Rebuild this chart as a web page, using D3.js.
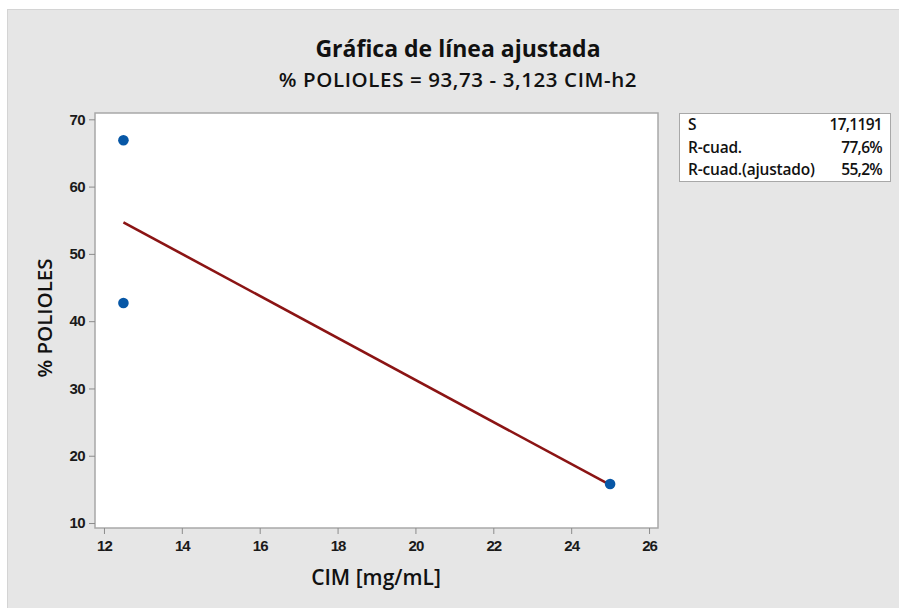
<!DOCTYPE html>
<html>
<head>
<meta charset="utf-8">
<script src="https://cdn.jsdelivr.net/npm/d3@7"></script>
<style>
  body { margin: 0; background: #ffffff; }
  svg { display: block; font-family: "Open Sans", "Noto Sans", sans-serif; }
</style>
</head>
<body>
<svg id="chart" width="899" height="608"></svg>
<script>
// ---- data ----
const cim = [12.5, 12.5, 25];
const polioles = [66.9, 42.7, 15.8];
const fitIntercept = 93.73;
const fitSlope = -3.123;
const xTicks = [12, 14, 16, 18, 20, 22, 24, 26];
const yTicks = [10, 20, 30, 40, 50, 60, 70];
const statLabels = ["S", "R-cuad.", "R-cuad.(ajustado)"];
const statValues = ["17,1191", "77,6%", "55,2%"];
const title = "Gráfica de línea ajustada";
const subtitle = "% POLIOLES = 93,73 - 3,123 CIM-h2";
const xLabel = "CIM [mg/mL]";
const yLabel = "% POLIOLES";

const svg = d3.select("#chart");
const W = 899, H = 608;

// background panel
svg.append("rect").attr("x", 0).attr("y", 0).attr("width", W).attr("height", H).attr("fill", "#ffffff");
svg.append("rect").attr("x", 7.5).attr("y", 9.5).attr("width", W).attr("height", H)
  .attr("fill", "#e6e6e6").attr("stroke", "#d4d4d4");

const plot = { left: 95, top: 113, right: 658, bottom: 528 };

const x = d3.scaleLinear().domain([11.77, 26.23]).range([plot.left, plot.right]);
const y = d3.scaleLinear().domain([9.26, 70.94]).range([plot.bottom, plot.top]);

svg.append("rect").attr("x", plot.left).attr("y", plot.top)
  .attr("width", plot.right - plot.left).attr("height", plot.bottom - plot.top)
  .attr("fill", "#ffffff").attr("stroke", "#a8a8a8").attr("stroke-width", 1.5);

// axes
const xAxis = d3.axisBottom(x).tickValues(xTicks).tickSize(6).tickFormat(d3.format("d"));
const gx = svg.append("g").attr("transform", `translate(0,${plot.bottom})`).call(xAxis);
gx.select(".domain").remove();
gx.selectAll(".tick line").attr("stroke", "#8c8c8c");
gx.selectAll(".tick text").attr("fill", "#1a1a1a").attr("font-size", 15).attr("font-weight", 600)
  .attr("dy", "0.9em").attr("letter-spacing", "-1px");

const yAxis = d3.axisLeft(y).tickValues(yTicks).tickSize(6).tickFormat(d3.format("d"));
const gy = svg.append("g").attr("transform", `translate(${plot.left},0)`).call(yAxis);
gy.select(".domain").remove();
gy.selectAll(".tick line").attr("stroke", "#8c8c8c");
gy.selectAll(".tick text").attr("fill", "#1a1a1a").attr("font-size", 15).attr("font-weight", 600)
  .attr("dx", "-1px").attr("letter-spacing", "-0.6px");

// fitted line
const xMin = d3.min(cim), xMax = d3.max(cim);
const fitPts = [xMin, xMax].map(v => [v, fitIntercept + fitSlope * v]);
svg.append("path").datum(fitPts)
  .attr("d", d3.line().x(d => x(d[0])).y(d => y(d[1])))
  .attr("fill", "none").attr("stroke", "#8b1414").attr("stroke-width", 2.6);

// points
svg.selectAll("circle.pt").data(cim.map((c, i) => [c, polioles[i]])).enter()
  .append("circle").attr("class", "pt")
  .attr("cx", d => x(d[0])).attr("cy", d => y(d[1])).attr("r", 5.3)
  .attr("fill", "#0757a6");

// titles
svg.append("text").attr("x", 458).attr("y", 57).attr("text-anchor", "middle")
  .attr("font-size", 23).attr("font-weight", 700).attr("fill", "#111").text(title);
svg.append("text").attr("x", 458).attr("y", 87).attr("text-anchor", "middle")
  .attr("font-size", 20.5).attr("font-weight", 600).attr("fill", "#111")
  .attr("letter-spacing", "0.6px").text(subtitle);

// axis labels
svg.append("text").attr("x", 376).attr("y", 585).attr("text-anchor", "middle")
  .attr("font-size", 21).attr("font-weight", 600).attr("fill", "#111").text(xLabel);
svg.append("text").attr("transform", "translate(52,318) rotate(-90)").attr("text-anchor", "middle")
  .attr("font-size", 20.5).attr("font-weight", 600).attr("fill", "#111").text(yLabel);

// stats box
const box = { x: 679, y: 113, w: 211, h: 68 };
svg.append("rect").attr("x", box.x + 0.5).attr("y", box.y + 0.5).attr("width", box.w).attr("height", box.h)
  .attr("fill", "#ffffff").attr("stroke", "#a8a8a8");
const rowY = d3.scalePoint().domain(statLabels).range([130, 175]);
svg.selectAll("text.sl").data(statLabels).enter().append("text").attr("class", "sl")
  .attr("x", box.x + 9).attr("y", d => rowY(d)).attr("font-size", 15.5).attr("font-weight", 600)
  .attr("fill", "#111").attr("letter-spacing", "-0.2px").text(d => d);
svg.selectAll("text.sv").data(statValues).enter().append("text").attr("class", "sv")
  .attr("x", box.x + box.w - 8).attr("y", (d, i) => rowY(statLabels[i])).attr("text-anchor", "end")
  .attr("font-size", 15.5).attr("font-weight", 600).attr("fill", "#111").attr("letter-spacing", "-0.7px").text(d => d);
</script>
</body>
</html>
